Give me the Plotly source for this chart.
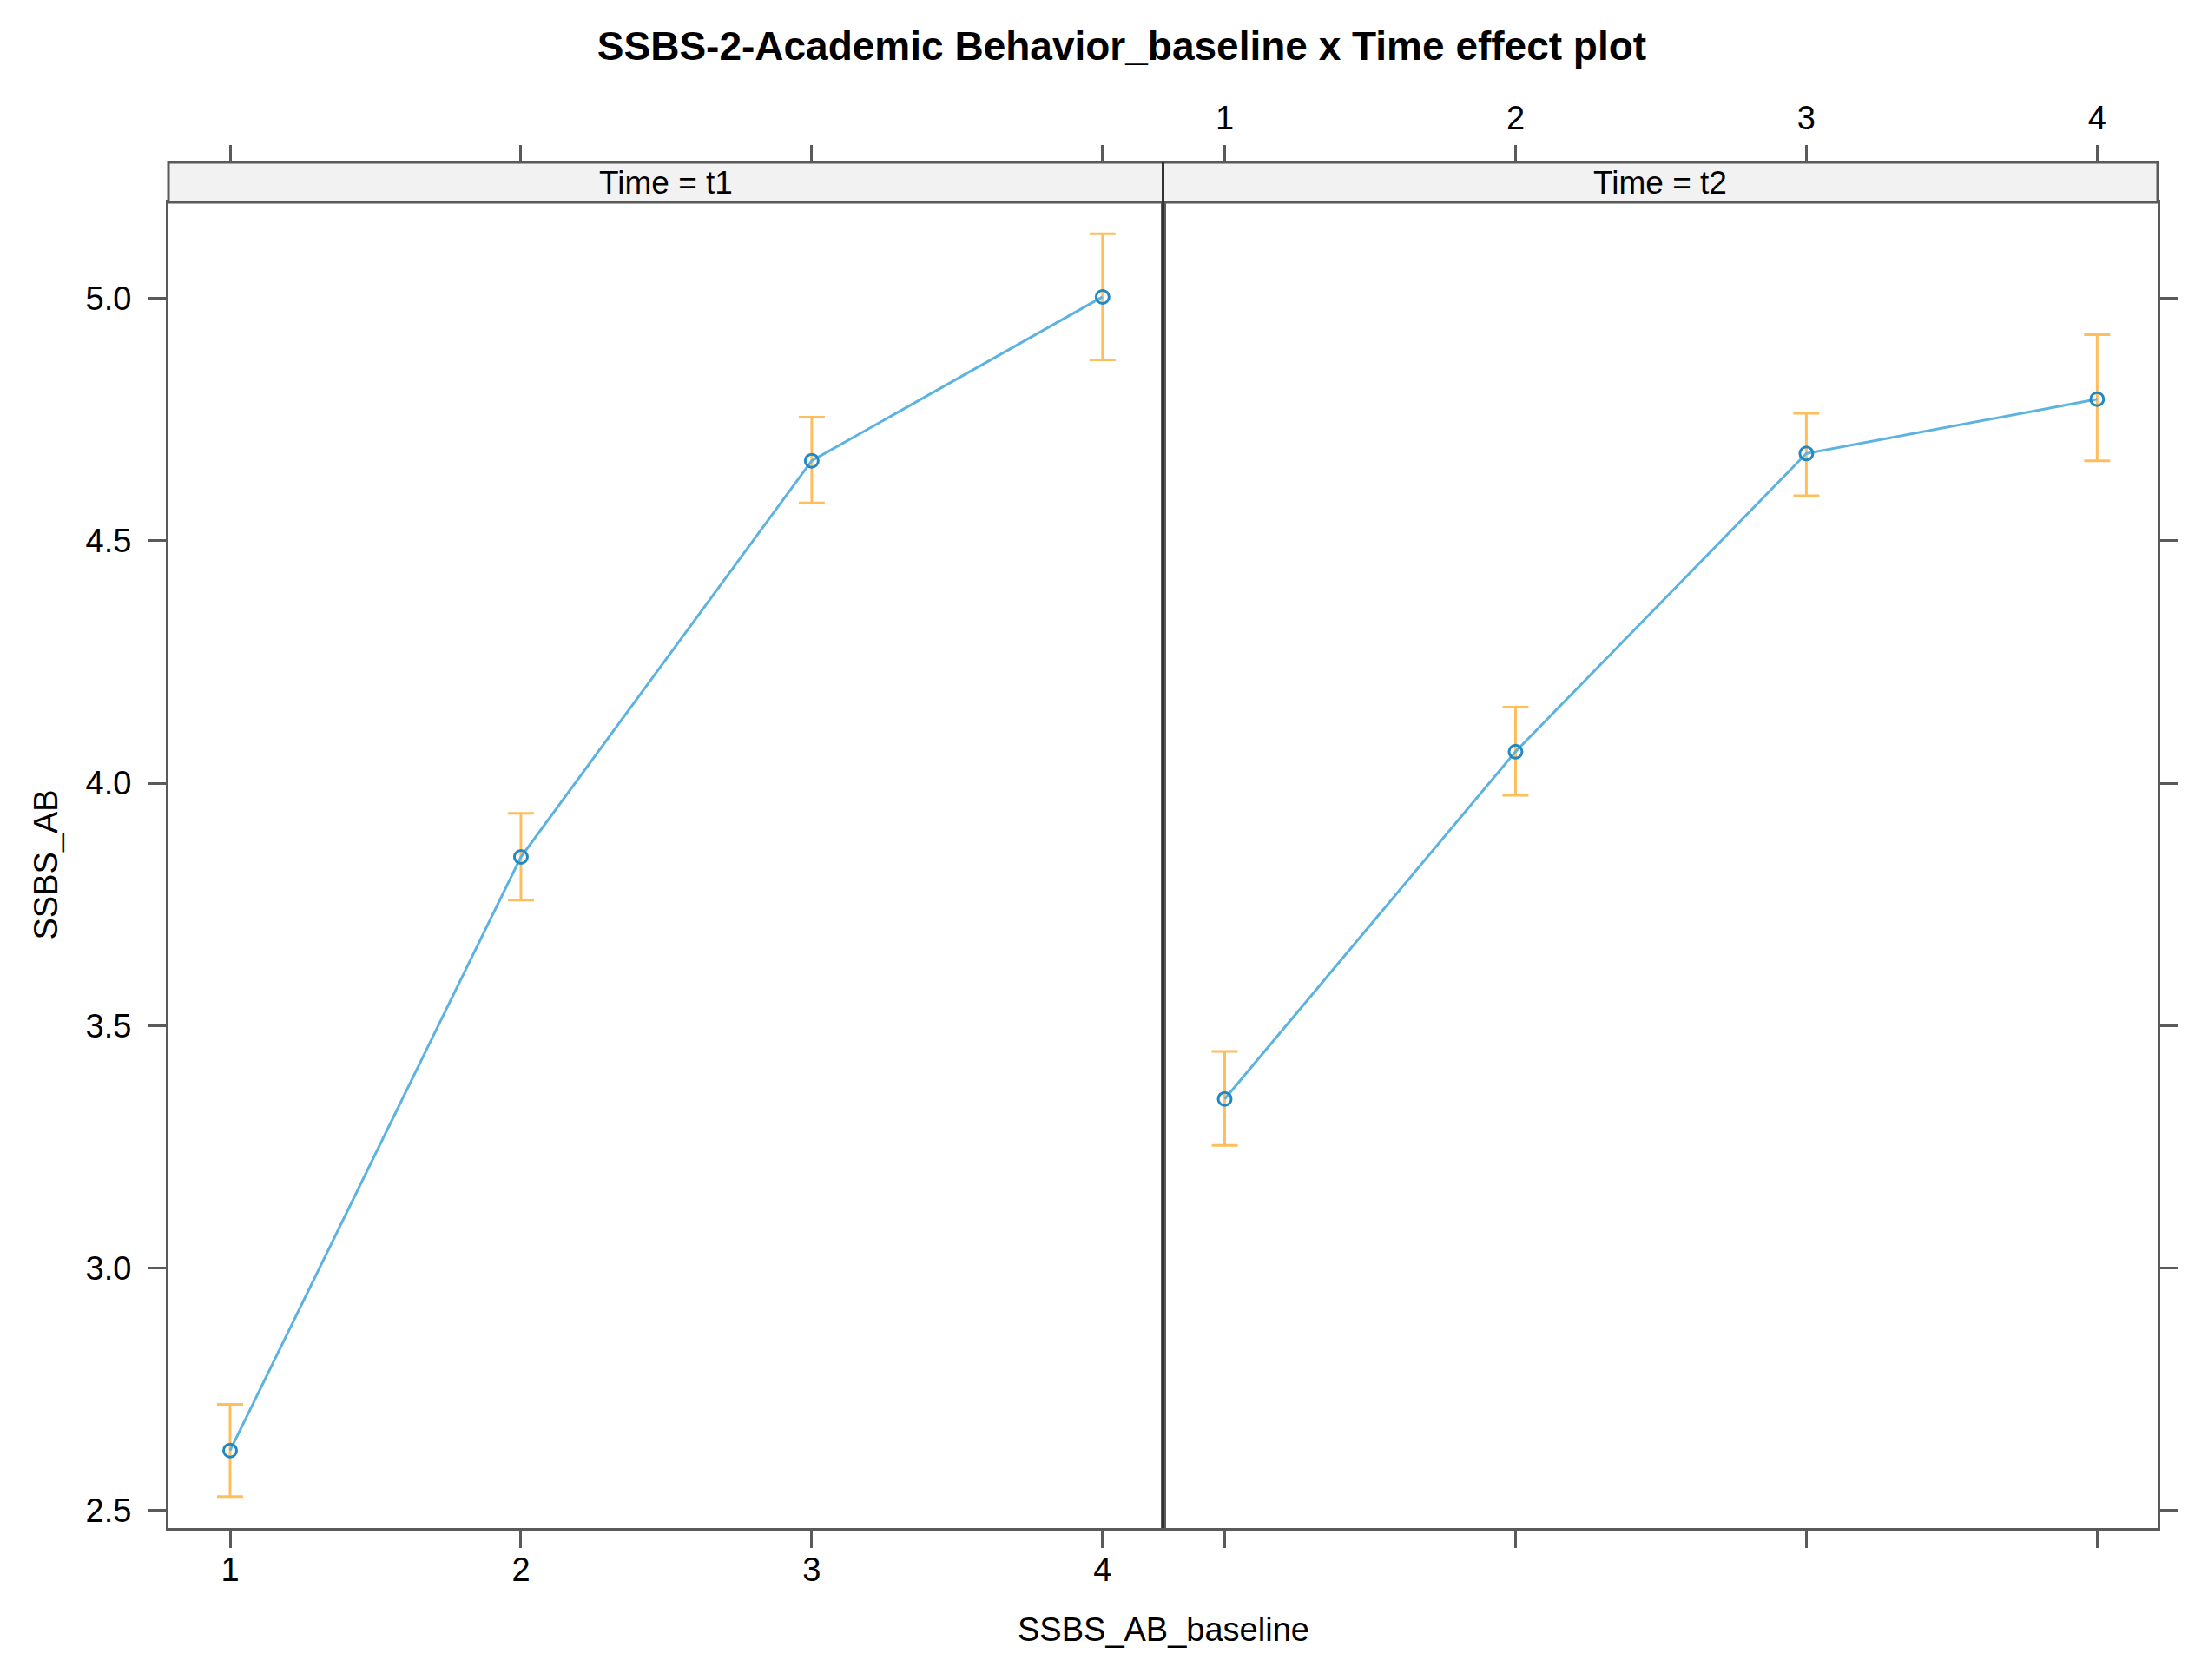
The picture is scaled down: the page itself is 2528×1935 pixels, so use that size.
import plotly.graph_objects as go

# ---- data ----
baseline = [1, 2, 3, 4]
t1_fit = [2.624, 3.848, 4.665, 5.003]
t1_lower = [2.529, 3.759, 4.578, 4.873]
t1_upper = [2.719, 3.938, 4.755, 5.133]
t2_fit = [3.349, 4.065, 4.680, 4.792]
t2_lower = [3.253, 3.975, 4.593, 4.665]
t2_upper = [3.447, 4.157, 4.763, 4.925]
x_ticks = [1, 2, 3, 4]
y_ticks = [2.5, 3.0, 3.5, 4.0, 4.5, 5.0]
y_tick_text = ["2.5", "3.0", "3.5", "4.0", "4.5", "5.0"]
panels = ["Time = t1", "Time = t2"]

FONT = "Liberation Sans, Arial, sans-serif"
LINE_C = "#5db3e0"
MARK_C = "#2188c4"
ERR_C = "#ffbe5c"
AX_C = "#5a5a5a"

# the page body has an 8px default margin, so the figure is 8px smaller
W, H = 2520, 1927
ML, MR, MT, MB = 186, 43, 179, 175
plot_w = W - ML - MR
plot_h = H - MT - MB
strip_h = 46
ydom_top = 1 - strip_h / plot_h

x_range = [0.788, 4.208]
y_range = [2.464, 5.198]

fig = go.Figure()


def add_panel(fit, lo, hi, xa, ya):
    fig.add_trace(go.Scatter(
        x=baseline, y=fit, xaxis=xa, yaxis=ya, mode="lines+markers",
        line=dict(color=LINE_C, width=3),
        marker=dict(symbol="circle-open", size=15, color=MARK_C, line=dict(width=3, color=MARK_C)),
        error_y=dict(type="data", symmetric=False,
                     array=[h - f for h, f in zip(hi, fit)],
                     arrayminus=[f - l for f, l in zip(fit, lo)],
                     color=ERR_C, thickness=3, width=15),
        showlegend=False, hoverinfo="x+y",
    ))


add_panel(t1_fit, t1_lower, t1_upper, "x", "y")
add_panel(t2_fit, t2_lower, t2_upper, "x2", "y2")

# invisible helpers so the top tick axes are drawn
fig.add_trace(go.Scatter(x=baseline, y=t1_fit, xaxis="x3", yaxis="y", mode="markers",
                         marker=dict(opacity=0), showlegend=False, hoverinfo="skip"))
fig.add_trace(go.Scatter(x=baseline, y=t2_fit, xaxis="x4", yaxis="y2", mode="markers",
                         marker=dict(opacity=0), showlegend=False, hoverinfo="skip"))

tickfont = dict(family=FONT, size=38, color="#000000")
common_x = dict(range=x_range, tickvals=x_ticks, ticktext=[str(v) for v in x_ticks],
                ticks="outside", ticklen=20, tickwidth=2.5, tickcolor=AX_C,
                showgrid=False, zeroline=False, tickfont=tickfont)
common_y = dict(range=y_range, tickvals=y_ticks, ticktext=y_tick_text,
                ticks="outside", ticklen=20, tickwidth=2.5, tickcolor=AX_C,
                showgrid=False, zeroline=False, tickfont=tickfont,
                showline=True, linecolor=AX_C, linewidth=3, mirror=True)

fig.update_layout(
    width=W, height=H,
    margin=dict(l=ML, r=MR, t=MT, b=MB, pad=0),
    paper_bgcolor="white", plot_bgcolor="white",
    font=dict(family=FONT, size=38, color="#000000"),
    title=dict(text="<b>SSBS-2-Academic Behavior_baseline x Time effect plot</b>",
               font=dict(family=FONT, size=46, color="#000000"),
               x=1284 / W, xref="container", xanchor="center",
               y=1 - 45 / H, yref="container", yanchor="middle"),
    xaxis=dict(domain=[0, 0.5], anchor="y", side="bottom", showticklabels=True,
               ticklabelstandoff=-8,
               showline=True, linecolor=AX_C, linewidth=3, mirror=True, **common_x),
    xaxis2=dict(domain=[0.5, 1], anchor="y2", side="bottom", showticklabels=False,
                showline=True, linecolor=AX_C, linewidth=3, mirror=True, **common_x),
    xaxis3=dict(overlaying="x", side="top", anchor="free", position=1,
                showticklabels=False, showline=False, **common_x),
    xaxis4=dict(overlaying="x2", side="top", anchor="free", position=1,
                showticklabels=True, ticklabelstandoff=3, showline=False, **common_x),
    yaxis=dict(domain=[0, ydom_top], anchor="x", side="left", showticklabels=True,
               ticklabelstandoff=12, **common_y),
    yaxis2=dict(domain=[0, ydom_top], anchor="x2", side="right", showticklabels=False,
                matches="y", **common_y),
)

# strips
for i, label in enumerate(panels):
    x0, x1 = i * 0.5, (i + 1) * 0.5
    fig.add_shape(type="rect", xref="paper", yref="paper", x0=x0, x1=x1, y0=ydom_top, y1=1,
                  fillcolor="#f2f2f2", line=dict(color=AX_C, width=3), layer="above")
    fig.add_annotation(text=label, xref="paper", yref="paper", x=(x0 + x1) / 2,
                       y=(ydom_top + 1) / 2, showarrow=False, xanchor="center", yanchor="middle",
                       font=dict(family=FONT, size=37, color="#000000"))

# panel divider (darker, as in the reference)
fig.add_shape(type="line", xref="paper", yref="paper", x0=0.5, x1=0.5, y0=0, y1=1,
              line=dict(color="#333333", width=3), layer="above")

# axis titles
fig.add_annotation(text="SSBS_AB_baseline", xref="paper", yref="paper", x=0.5,
                   y=-(1869 - (H - MB)) / plot_h, showarrow=False, xanchor="center",
                   yanchor="middle", font=dict(family=FONT, size=38, color="#000000"))
fig.add_annotation(text="SSBS_AB", xref="paper", yref="paper", x=(44 - ML) / plot_w,
                   y=ydom_top / 2, textangle=-90, showarrow=False, xanchor="center",
                   yanchor="middle", font=dict(family=FONT, size=38, color="#000000"))

fig.write_html("out.html")
